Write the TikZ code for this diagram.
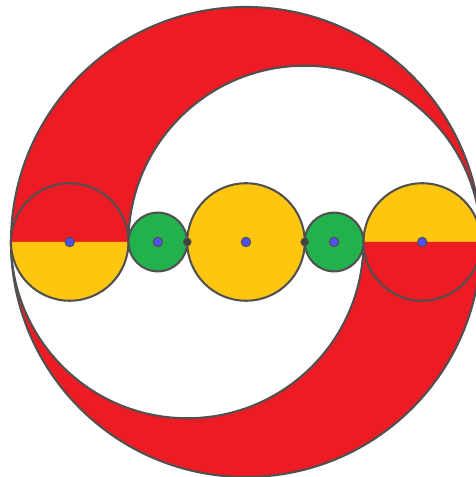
\documentclass[tikz,border=0pt]{standalone}
\definecolor{cred}{HTML}{ED1C24}
\definecolor{cyellow}{HTML}{FFC60F}
\definecolor{cgreen}{HTML}{22B14C}
\definecolor{cblue}{HTML}{5050F0}
\definecolor{cline}{HTML}{505050}
\begin{document}
\begin{tikzpicture}[
  outline/.style={draw=cline, line width=1pt},
  bluedot/.style={circle, fill=cblue, draw=cline, line width=0.5pt, inner sep=0pt, minimum size=0.16cm},
  darkdot/.style={circle, fill=cline!80!black, draw=cline, line width=0.5pt, inner sep=0pt, minimum size=0.13cm}
]
\useasboundingbox (-4.187,-4.0) rectangle (3.898,4.119);
% big disk
\fill[cred] (0,0) circle (4);
% white semicircles
\fill[white] (-2,0) arc[start angle=180, end angle=0, radius=3] -- cycle;
\fill[white] (-4,0) arc[start angle=180, end angle=360, radius=3] -- cycle;
% outlines
\draw[outline] (0,0) circle (4);
\draw[outline] (-2,0) arc[start angle=180, end angle=0, radius=3];
\draw[outline] (-4,0) arc[start angle=180, end angle=360, radius=3];
% left circle
\fill[cred] (-4,0) arc[start angle=180, end angle=0, radius=1] -- cycle;
\fill[cyellow] (-4,0) arc[start angle=180, end angle=360, radius=1] -- cycle;
\draw[outline] (-3,0) circle (1);
% right circle
\fill[cyellow] (2,0) arc[start angle=180, end angle=0, radius=1] -- cycle;
\fill[cred] (2,0) arc[start angle=180, end angle=360, radius=1] -- cycle;
\draw[outline] (3,0) circle (1);
% middle circles
\draw[outline, fill=cgreen] (-1.5,0) circle (0.5);
\draw[outline, fill=cyellow] (0,0) circle (1);
\draw[outline, fill=cgreen] (1.5,0) circle (0.5);
% dots
\node[bluedot] (c1) at (-3,0) {};
\node[bluedot] (c2) at (-1.5,0) {};
\node[bluedot] (c3) at (0,0) {};
\node[bluedot] (c4) at (1.5,0) {};
\node[bluedot] (c5) at (3,0) {};
\node[darkdot] (t1) at (-1,0) {};
\node[darkdot] (t2) at (1,0) {};
\end{tikzpicture}
\end{document}
